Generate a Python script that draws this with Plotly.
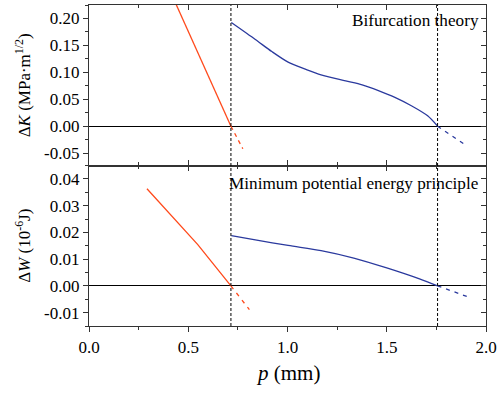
import numpy as np
import plotly.graph_objects as go

# ---------------- data ----------------
# Top panel: Bifurcation theory, Delta K (MPa m^1/2)
red_K_p = [0.40, 0.50, 0.60, 0.715]
red_K = [0.258, 0.176, 0.094, 0.0]
red_K_dash_p = [0.715, 0.775]
red_K_dash = [0.0, -0.042]

blue_K_p = [0.717, 0.838, 0.921, 1.003, 1.086, 1.169, 1.293, 1.376, 1.458, 1.541, 1.624, 1.706, 1.756]
blue_K = [0.1925, 0.1610, 0.1385, 0.1189, 0.1065, 0.0953, 0.0840, 0.0766, 0.066, 0.0535, 0.0379, 0.0192, 0.0]
blue_K_dash_p = [1.756, 1.905]
blue_K_dash = [0.0, -0.037]

# Bottom panel: Minimum potential energy principle, Delta W (1e-6 J)
red_W_p = [0.292, 0.42, 0.548, 0.715]
red_W = [0.0363, 0.0259, 0.0154, 0.0]
red_W_dash_p = [0.715, 0.808]
red_W_dash = [0.0, -0.0089]

blue_W_p = [0.717, 0.838, 1.003, 1.169, 1.334, 1.5, 1.665, 1.756]
blue_W = [0.0188, 0.0172, 0.0151, 0.0132, 0.0104, 0.0067, 0.0026, 0.0]
blue_W_dash_p = [1.756, 1.913]
blue_W_dash = [0.0, -0.0042]

crit_p = [0.715, 1.756]

x_ticks = [0.0, 0.5, 1.0, 1.5, 2.0]
x_ticklabels = ["0.0", "0.5", "1.0", "1.5", "2.0"]
yK_ticks = [-0.05, 0.0, 0.05, 0.10, 0.15, 0.20]
yK_ticklabels = ["-0.05", "0.00", "0.05", "0.10", "0.15", "0.20"]
yW_ticks = [-0.01, 0.0, 0.01, 0.02, 0.03, 0.04]
yW_ticklabels = ["-0.01", "0.00", "0.01", "0.02", "0.03", "0.04"]

RED = "#ff4a1c"
BLUE = "#2b3a9e"
FONT = "Liberation Serif, Times New Roman, serif"
AX = "#333333"

fig = go.Figure()

def line(x, y, color, xa, ya, dash=None, spline=False):
    fig.add_trace(go.Scatter(x=x, y=y, mode="lines", xaxis=xa, yaxis=ya,
                             line=dict(color=color, width=1.3, dash=dash,
                                       shape="spline" if spline else "linear",
                                       smoothing=0.8),
                             showlegend=False, hoverinfo="skip"))

# top panel (x2, y2)
line(red_K_p, red_K, RED, "x2", "y2")
line(red_K_dash_p, red_K_dash, RED, "x2", "y2", "4px,4px")
line(blue_K_p, blue_K, BLUE, "x2", "y2", spline=True)
line(blue_K_dash_p, blue_K_dash, BLUE, "x2", "y2", "4px,5px")
# bottom panel (x, y)
line(red_W_p, red_W, RED, "x", "y")
line(red_W_dash_p, red_W_dash, RED, "x", "y", "4px,5px")
line(blue_W_p, blue_W, BLUE, "x", "y", spline=True)
line(blue_W_dash_p, blue_W_dash, BLUE, "x", "y", "4px,5px")

# invisible traces so the mirror axes get drawn
for xa, ya in [("x3", "y3"), ("x4", "y4")]:
    fig.add_trace(go.Scatter(x=[None], y=[None], xaxis=xa, yaxis=ya,
                             showlegend=False, hoverinfo="skip"))

xr = [0, 2]
yKr = [-0.073, 0.225]
yWr = [-0.015, 0.045]
font = dict(family=FONT, size=17, color="black")

x_minor = list(np.arange(0, 2.001, 0.25))
yK_minor = list(np.arange(-0.075, 0.226, 0.025))
yW_minor = list(np.arange(-0.015, 0.046, 0.005))

common = dict(showline=True, linecolor=AX, linewidth=1.3, showgrid=False,
              tickcolor=AX, tickwidth=1, ticklen=5, ticklabeloverflow="allow")

def xax(anchor, side="bottom", overlay=None, show=False):
    d = dict(common, range=xr, anchor=anchor, side=side, domain=[0, 1],
             ticks="outside" if show else "inside",
             tickmode="array", tickvals=x_ticks, ticktext=x_ticklabels,
             showticklabels=show, tickfont=font, zeroline=False,
             minor=dict(tickmode="array", tickvals=x_minor,
                        ticks="outside" if show else "inside", ticklen=3,
                        tickcolor=AX))
    if overlay:
        d["overlaying"] = overlay
    return d

def yax(anchor, rng, ticks, labels, minor, dom, side="left", overlay=None, show=False):
    d = dict(common, range=rng, anchor=anchor, side=side,
             ticks="outside" if show else "inside",
             tickmode="array", tickvals=ticks, ticktext=labels,
             showticklabels=show, tickfont=font,
             zeroline=show, zerolinecolor="black", zerolinewidth=1.3,
             minor=dict(tickmode="array", tickvals=minor,
                        ticks="outside" if show else "inside", ticklen=3,
                        tickcolor=AX))
    if overlay:
        d["overlaying"] = overlay
    else:
        d["domain"] = dom
    return d

fig.update_layout(
    width=502, height=396,
    margin=dict(l=89, r=10, t=5, b=70),
    paper_bgcolor="white", plot_bgcolor="white",
    font=dict(family=FONT, size=17, color="black"),
    xaxis=xax("y", show=True),
    xaxis2=dict(xax("y2"), matches="x"),
    xaxis3=xax("y", side="top", overlay="x"),
    xaxis4=xax("y2", side="top", overlay="x2"),
    yaxis=yax("x", yWr, yW_ticks, yW_ticklabels, yW_minor, [0, 0.5], show=True),
    yaxis2=yax("x2", yKr, yK_ticks, yK_ticklabels, yK_minor, [0.5, 1], show=True),
    yaxis3=yax("x", yWr, yW_ticks, yW_ticklabels, yW_minor, None, side="right", overlay="y"),
    yaxis4=yax("x2", yKr, yK_ticks, yK_ticklabels, yK_minor, None, side="right", overlay="y2"),
)

# vertical dotted lines at the critical p values
for cp in crit_p:
    fig.add_shape(type="line", xref="x", yref="paper", x0=cp, x1=cp, y0=0, y1=1,
                  line=dict(color="black", width=1, dash="3px,2px"))

fig.add_annotation(text="Bifurcation theory", xref="paper", yref="y2 domain",
                   x=0.988, y=0.906, xanchor="right", yanchor="middle",
                   showarrow=False, font=dict(family=FONT, size=17.2, color="black"))
fig.add_annotation(text="Minimum potential energy principle", xref="paper", yref="y domain",
                   x=0.988, y=0.888, xanchor="right", yanchor="middle",
                   showarrow=False, font=dict(family=FONT, size=17.2, color="black"))
fig.add_annotation(text="Δ<i>K</i> (MPa·m<sup>1/2</sup>)", xref="paper", yref="paper",
                   x=-0.166, y=0.75, xanchor="center", yanchor="middle", textangle=-90,
                   showarrow=False, font=dict(family=FONT, size=17, color="black"))
fig.add_annotation(text="Δ<i>W</i> (10<sup>-6</sup>J)", xref="paper", yref="paper",
                   x=-0.166, y=0.25, xanchor="center", yanchor="middle", textangle=-90,
                   showarrow=False, font=dict(family=FONT, size=17, color="black"))
fig.add_annotation(text="<i>p</i> (mm)", xref="paper", yref="paper",
                   x=0.5, y=-0.146, xanchor="center", yanchor="middle",
                   showarrow=False, font=dict(family=FONT, size=21, color="black"))

fig.write_html("out.html")
